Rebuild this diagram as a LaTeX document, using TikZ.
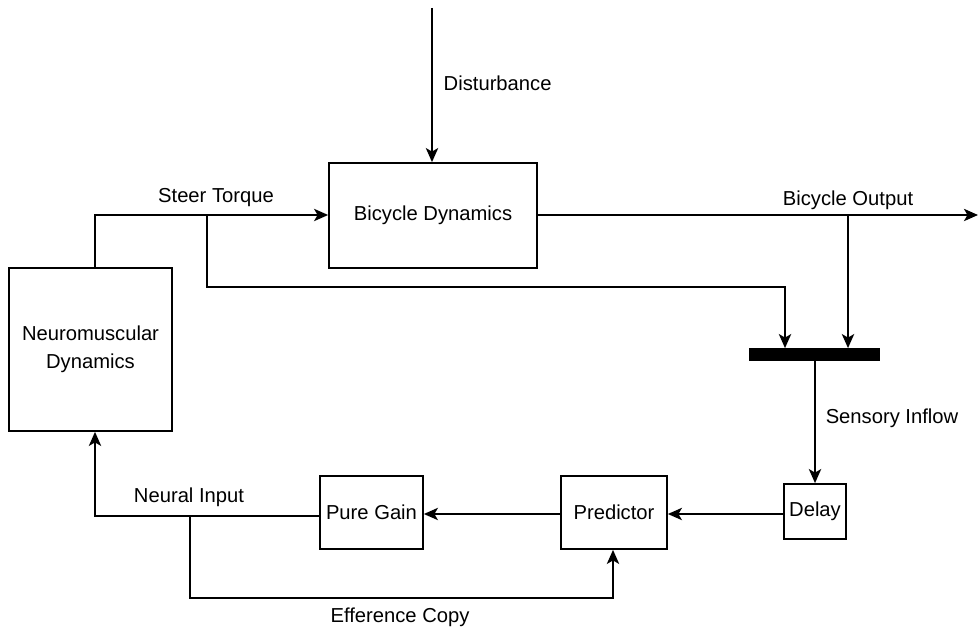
\documentclass[tikz,border=0pt]{standalone}
\usepackage{fontspec}
\setmainfont{Liberation Sans}
\usetikzlibrary{arrows.meta}

\begin{document}
\begin{tikzpicture}[x=0.02cm, y=-0.02cm, line width=1pt,
    >={Stealth[length=8pt,width=7pt,inset=2pt]},
    font=\fontsize{11.5}{14}\selectfont,
    block/.style={draw, inner sep=0pt, align=center}]
            \useasboundingbox (0, 0) rectangle (979, 631);
            %\draw[lightgray] (0, 0) grid[step=50] (979, 631);
            \node[block, minimum width=208*0.02cm, minimum height=105*0.02cm] (bike) at (433, 215.5) {Bicycle Dynamics};
            \node[block, minimum width=163*0.02cm, minimum height=163*0.02cm] (nm) at (90.5, 349.5) {Neuromuscular\\[2pt]Dynamics};
            \node[draw, fill=black, inner sep=0pt, minimum width=129*0.02cm, minimum height=11*0.02cm] (bar) at (814.5, 354.5) {};
            \node[block, minimum width=62*0.02cm, minimum height=55*0.02cm] (delay) at (815, 511.5) {Delay};
            \node[block, minimum width=106*0.02cm, minimum height=73*0.02cm] (pred) at (614, 512.5) {Predictor};
            \node[block, minimum width=103*0.02cm, minimum height=73*0.02cm] (gain) at (371.5, 512.5) {Pure Gain};
            \coordinate (dist) at (432, 8);
            \coordinate (out) at (978, 215);
            % forward path
            \draw[->] (dist) -- (dist |- bike.north);
            \draw[->] (nm.north -| 95, 0) -- (95, 215) -- (bike.west |- 0, 215);
            \draw[->] (bike.east |- 0, 215) -- (out);
            \draw[->] (848, 215) -- (848, 0 |- bar.north);
            \draw[->] (207, 215) -- (207, 287) -- (785, 287) -- (785, 0 |- bar.north);
            % feedback path
            \draw[->] (bar.south -| 815, 0) -- (delay.north);
            \draw[->] (delay.west |- 0, 514) -- (pred.east |- 0, 514);
            \draw[->] (pred.west |- 0, 514) -- (gain.east |- 0, 514);
            \draw[->] (gain.west |- 0, 516) -- (95, 516) -- (95, 0 |- nm.south);
            \draw[->] (190, 516) -- (190, 598) -- (613, 598) -- (613, 0 |- pred.south);
            \node[right] (ldist) at (437, 83) {Disturbance};
            \node (lsteer) at (216, 198) {Steer Torque};
            \node (lout) at (848, 200) {Bicycle Output};
            \node[right] (lsens) at (819, 418) {Sensory Inflow};
            \node (lneural) at (189, 497) {Neural Input};
            \node (leff) at (400, 617) {Efference Copy};
        \end{tikzpicture}
\end{document}
